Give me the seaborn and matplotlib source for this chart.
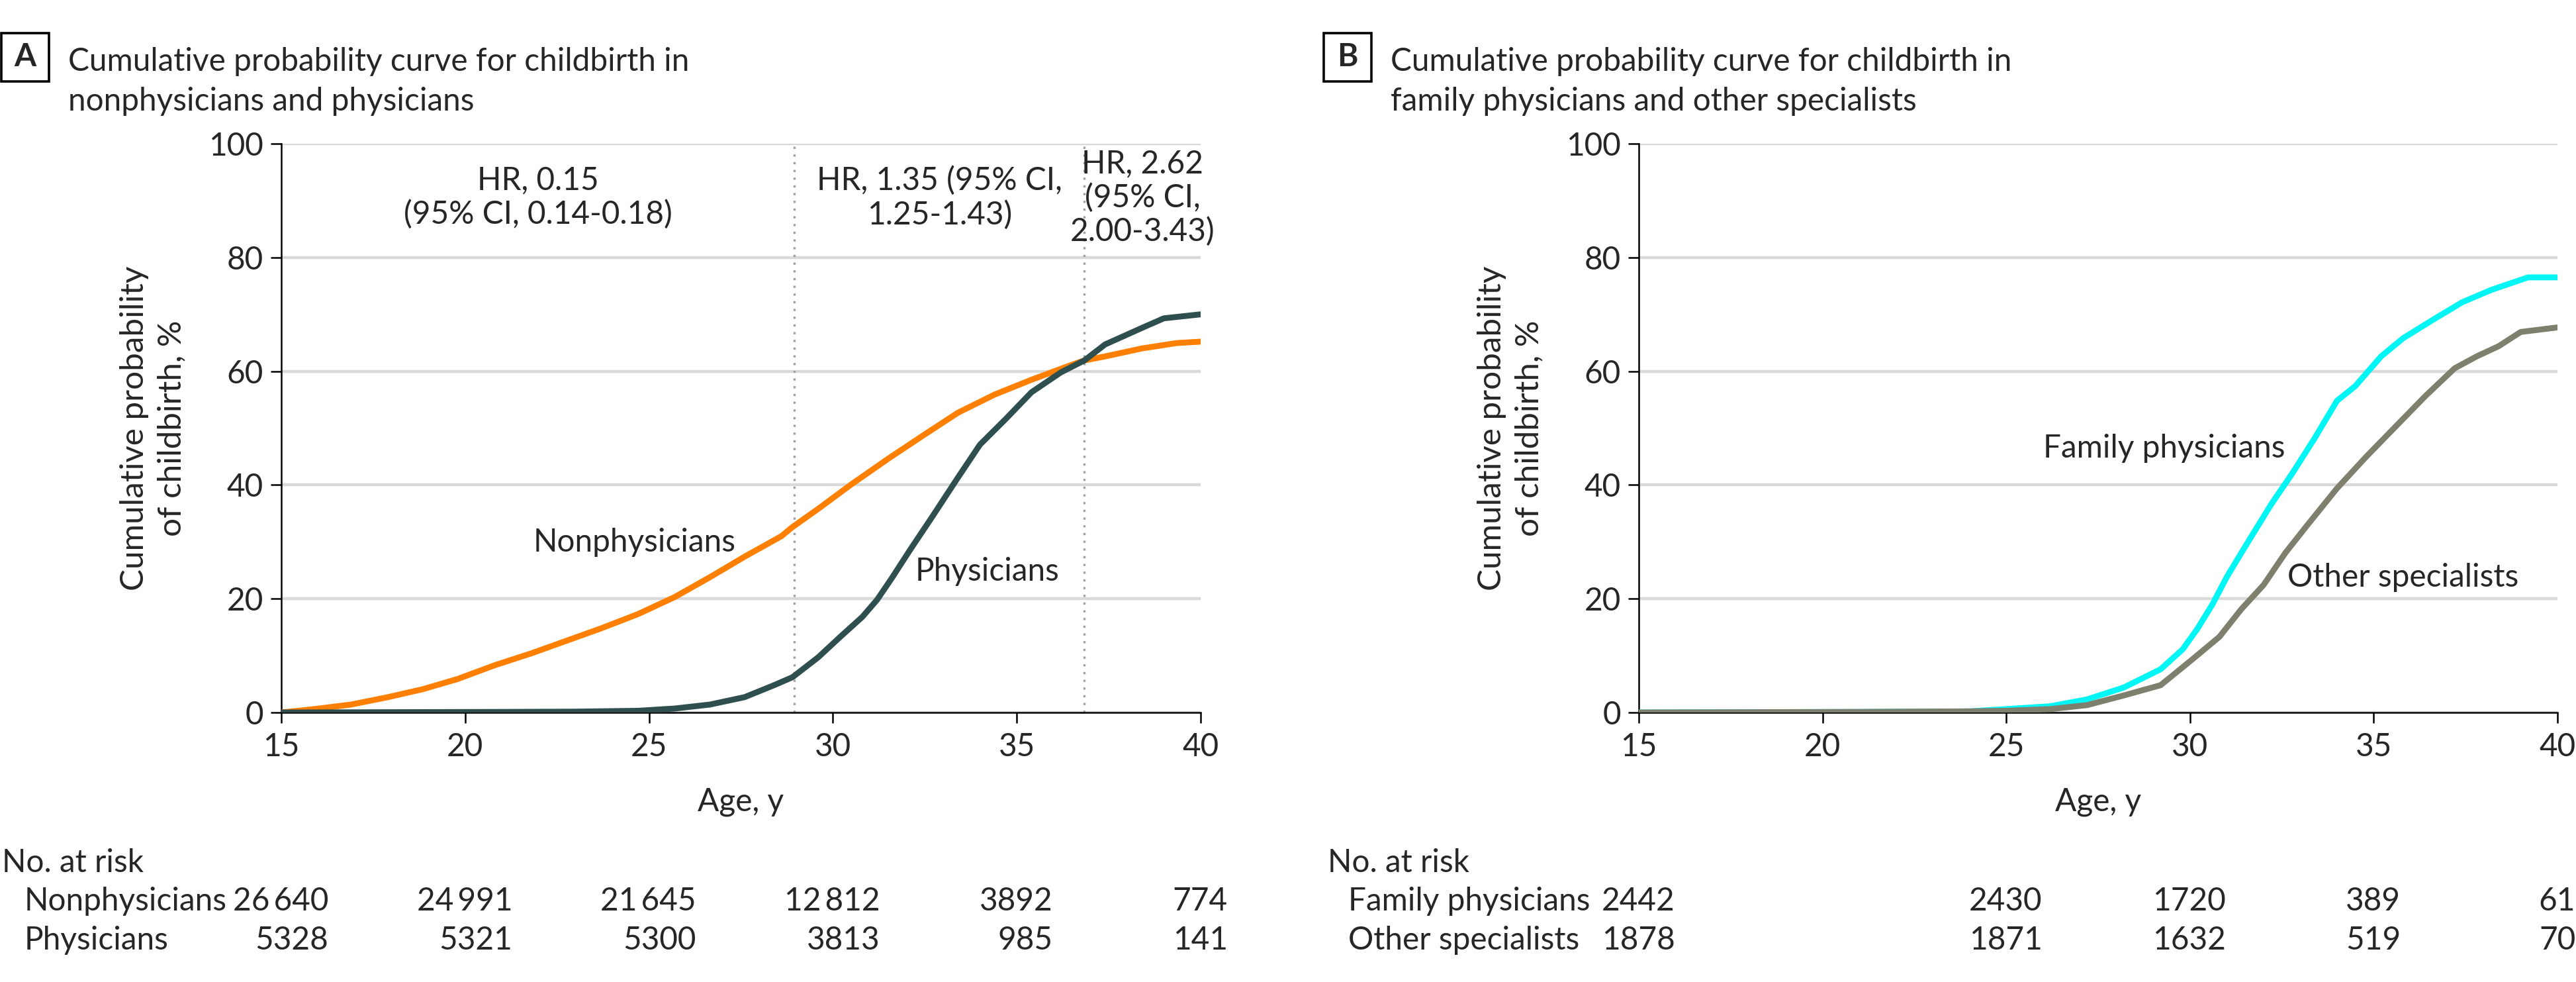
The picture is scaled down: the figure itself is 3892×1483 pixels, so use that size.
import matplotlib
matplotlib.use("Agg")
import matplotlib.pyplot as plt
import matplotlib.transforms as mtransforms
from matplotlib.patches import Rectangle
import pandas as pd
import seaborn as sns

# panel A: nonphysicians vs physicians (age, cumulative %)
nonphys_age = [15, 15.9, 16.9, 17.9, 18.85, 19.8, 20.8, 21.8, 22.75, 23.7, 24.7, 25.7,
               26.66, 27.6, 28.6, 28.9, 29.6, 30.5, 31.5, 32.5, 33.4, 34.4, 35.4, 36.4,
               36.84, 37.4, 38.4, 39.35, 40]
nonphys_pct = [0, 0.6, 1.4, 2.7, 4.1, 5.9, 8.3, 10.4, 12.6, 14.8, 17.3, 20.3,
               23.8, 27.4, 31.0, 32.6, 35.8, 40.1, 44.6, 48.9, 52.7, 55.9, 58.5, 60.9,
               61.9, 62.6, 64.0, 64.95, 65.2]
phys_age = [15, 18, 21, 23, 24.7, 25.7, 26.66, 27.6, 28.4, 28.9, 29.6, 30.2, 30.8, 31.2,
            31.6, 32.1, 32.7, 33.4, 34.0, 34.7, 35.4, 36.2, 36.84, 37.4, 38.4, 39.0, 40]
phys_pct = [0, 0.05, 0.1, 0.15, 0.3, 0.7, 1.4, 2.7, 4.8, 6.2, 9.7, 13.3, 16.8, 19.8,
            23.6, 28.6, 34.4, 41.3, 47.1, 51.6, 56.3, 59.8, 61.9, 64.7, 67.6, 69.3, 70.0]

# panel B: family physicians vs other specialists
fam_age = [15, 18, 21, 24, 25, 26.2, 27.2, 28.2, 29.2, 29.8, 30.2, 30.6, 31.0, 31.4, 31.8,
           32.2, 32.8, 33.4, 34.0, 34.5, 35.2, 35.8, 36.6, 37.4, 38.2, 39.2, 40]
fam_pct = [0, 0.05, 0.1, 0.2, 0.6, 1.1, 2.3, 4.4, 7.6, 11.1, 14.7, 18.9, 23.8, 28.1, 32.3,
           36.5, 42.2, 48.3, 54.8, 57.4, 62.6, 65.8, 69.0, 72.1, 74.3, 76.5, 76.5]
oth_age = [15, 18, 21, 24, 25, 26.2, 27.2, 28.2, 29.2, 30.0, 30.8, 31.4, 32.0, 32.6, 33.2,
           34.0, 34.8, 35.6, 36.4, 37.2, 37.8, 38.4, 39.0, 40]
oth_pct = [0, 0.05, 0.1, 0.2, 0.3, 0.6, 1.3, 3.0, 4.8, 9.0, 13.3, 18.2, 22.4, 28.1, 33.0,
           39.4, 45.0, 50.3, 55.6, 60.5, 62.6, 64.4, 66.9, 67.7]

# number at risk
risk_ages = [15, 20, 25, 30, 35, 40]
risk_nonphys = [26640, 24991, 21645, 12812, 3892, 774]
risk_phys = [5328, 5321, 5300, 3813, 985, 141]
risk_fam = [2442, None, 2430, 1720, 389, 61]
risk_oth = [1878, None, 1871, 1632, 519, 70]

hr_cuts = [28.95, 36.84]
hr_text = ["HR, 0.15\n(95% CI, 0.14-0.18)",
           "HR, 1.35 (95% CI,\n1.25-1.43)",
           "HR, 2.62\n(95% CI,\n2.00-3.43)"]

colors = {"Nonphysicians": "#FF8000", "Physicians": "#2E4F4E",
          "Family physicians": "#00F5F5", "Other specialists": "#7F7F6E"}

sns.set_style("white")
plt.rcParams["font.family"] = ["Lato", "DejaVu Sans"]
FS = 17.2
W, H = 3892, 1483

fig = plt.figure(figsize=(W / 200, H / 200), dpi=200)
axA = fig.add_axes([425 / W, 1 - 1076 / H, 1389 / W, 859 / H])
axB = fig.add_axes([2476 / W, 1 - 1076 / H, 1388 / W, 859 / H])


def fmt(n):
    if n is None:
        return ""
    s = str(n)
    if n >= 10000:
        s = s[:-3] + "\u2009" + s[-3:]
    return s


def style_axis(ax):
    ax.set_xlim(15, 40)
    ax.set_ylim(0, 100)
    ax.set_xticks(risk_ages)
    ax.set_yticks([0, 20, 40, 60, 80, 100])
    ax.yaxis.grid(True, color="#d9d9d9", linewidth=1.6)
    ax.xaxis.grid(False)
    ax.set_axisbelow(True)
    sns.despine(ax=ax)
    for sp in ["left", "bottom"]:
        ax.spines[sp].set_color("black")
        ax.spines[sp].set_linewidth(0.9)
    ax.tick_params(axis="both", direction="out", length=5.8, width=0.9,
                   color="black", labelsize=FS, left=True, bottom=True)
    ax.tick_params(axis="x", pad=5)
    ax.tick_params(axis="y", pad=4)
    ax.set_xlabel("Age, y", fontsize=FS, labelpad=14)
    ax.set_ylabel("Cumulative probability\nof childbirth, %", fontsize=FS + 0.6,
                  labelpad=12, linespacing=1.35)


def draw_panel(ax, groups):
    frames = []
    for name, ages, pcts in groups:
        frames.append(pd.DataFrame({"age": ages, "pct": pcts, "group": name}))
    df = pd.concat(frames, ignore_index=True)
    sns.lineplot(data=df, x="age", y="pct", hue="group",
                 palette={g[0]: colors[g[0]] for g in groups},
                 estimator=None, linewidth=3.2, legend=False, ax=ax, zorder=3)
    style_axis(ax)


def risk_table(ax, x_label, x_row, rows):
    blend = mtransforms.blended_transform_factory(ax.transData, fig.transFigure)
    fig.text(x_label, 1 - 1317 / H, "No. at risk", fontsize=FS, ha="left", va="baseline")
    ys = [1 - 1375 / H, 1 - 1434 / H]
    digit = 0.49  # approx width of one digit in years
    for (name, vals), y in zip(rows, ys):
        fig.text(x_row, y, name, fontsize=FS, ha="left", va="baseline")
    for i, age in enumerate(risk_ages):
        strs = [fmt(r[1][i]) for r in rows]
        widths = [sum(digit if c.isdigit() else 0.12 for c in s) for s in strs]
        right = age + max(widths) / 2
        for s, y in zip(strs, ys):
            ax.text(right, y, s, transform=blend, fontsize=FS, ha="right",
                    va="baseline", clip_on=False)


def panel_title(letter, x_box, x_text, line1, line2):
    fig.patches.append(Rectangle((x_box, 1 - 123 / H), 72 / W, 73 / H,
                                 transform=fig.transFigure, fill=False,
                                 edgecolor="black", linewidth=1.3))
    fig.text(x_box + 36 / W, 1 - 86 / H, letter, fontsize=FS, fontweight="bold",
             ha="center", va="center")
    fig.text(x_text, 1 - 107 / H, line1, fontsize=FS, ha="left", va="baseline")
    fig.text(x_text, 1 - 167 / H, line2, fontsize=FS, ha="left", va="baseline")


# panel A
draw_panel(axA, [("Nonphysicians", nonphys_age, nonphys_pct),
                 ("Physicians", phys_age, phys_pct)])
for c in hr_cuts:
    axA.axvline(c, color="#a0a0a0", linestyle=(0, (1, 2.5)), linewidth=1.2, zorder=2)
bounds = [15] + hr_cuts + [40]
for i, t in enumerate(hr_text):
    axA.text((bounds[i] + bounds[i + 1]) / 2, 90.5, t, fontsize=FS, ha="center",
             va="center", linespacing=1.18)
axA.text(24.6, 29.9, "Nonphysicians", fontsize=FS, ha="center", va="center")
axA.text(34.2, 24.8, "Physicians", fontsize=FS, ha="center", va="center")
risk_table(axA, 3 / W, 37 / W, [("Nonphysicians", risk_nonphys),
                                ("Physicians", risk_phys)])
panel_title("A", 2 / W, 103 / W, "Cumulative probability curve for childbirth in",
            "nonphysicians and physicians")

# panel B
draw_panel(axB, [("Family physicians", fam_age, fam_pct),
                 ("Other specialists", oth_age, oth_pct)])
axB.text(29.3, 46.4, "Family physicians", fontsize=FS, ha="center", va="center")
axB.text(35.8, 23.8, "Other specialists", fontsize=FS, ha="center", va="center")
risk_table(axB, 2006 / W, 2037 / W, [("Family physicians", risk_fam),
                                     ("Other specialists", risk_oth)])
panel_title("B", 2000 / W, 2101 / W, "Cumulative probability curve for childbirth in",
            "family physicians and other specialists")

fig.savefig("out.png", dpi=200, facecolor="white")
